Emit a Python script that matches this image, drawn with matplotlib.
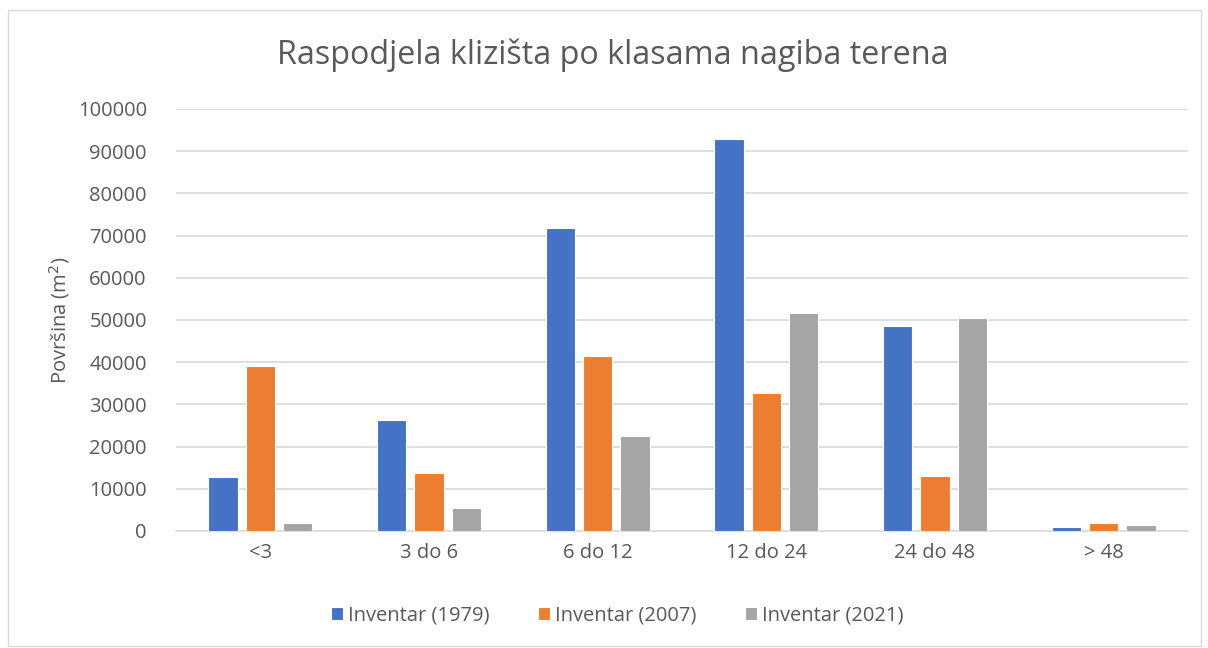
import numpy as np
import matplotlib
matplotlib.use('Agg')
from matplotlib import pyplot as plt
from matplotlib.patches import Rectangle

# Data
categories = ['<3', '3 do 6', '6 do 12', '12 do 24', '24 do 48', '> 48']
inv_1979 = [12700, 26400, 71700, 92800, 48500, 1000]
inv_2007 = [39000, 13800, 41500, 32800, 13100, 1900]
inv_2021 = [2000, 5400, 22400, 51700, 50500, 1300]
series_names = ['Inventar (1979)', 'Inventar (2007)', 'Inventar (2021)']
colors = ['#4472C4', '#ED7D31', '#A5A5A5']

plt.rcParams['font.family'] = ['Open Sans', 'DejaVu Sans']
text_col = '#595959'

fig = plt.figure(figsize=(12.08, 6.48), dpi=100)
ax = fig.add_axes([0.1457, 0.1806, 0.8377, 0.6512])

x = np.arange(len(categories))
width = 0.174
step = 0.221
for i, (vals, name, col) in enumerate(zip([inv_1979, inv_2007, inv_2021], series_names, colors)):
    ax.bar(x + (i - 1) * step, vals, width, color=col, label=name,
           edgecolor='white', linewidth=0.8, zorder=3)

ax.set_xlim(-0.5, len(categories) - 0.5)
ax.set_ylim(0, 100000)
ax.set_yticks(np.arange(0, 100001, 10000))
ax.set_xticks(x)
ax.set_xticklabels(categories)
ax.tick_params(axis='both', length=0, labelsize=14.5, colors=text_col)
ax.tick_params(axis='x', pad=9)
ax.tick_params(axis='y', pad=21)
ax.grid(axis='y', color='#d9d9d9', linewidth=1.2, zorder=0)
for s in ['top', 'right', 'left']:
    ax.spines[s].set_visible(False)
ax.spines['bottom'].set_color('#d9d9d9')
ax.spines['bottom'].set_linewidth(1.2)

ax.set_ylabel('Površina (m$^2$)', fontsize=14.5, color=text_col, labelpad=4)
fig.text(0.507, 0.915, 'Raspodjela klizišta po klasama nagiba terena',
         ha='center', va='center', fontsize=23.3, color=text_col)

leg = fig.legend(loc='center', bbox_to_anchor=(0.511, 0.05), ncol=3, frameon=False,
                 fontsize=14.5, handlelength=0.6, handleheight=0.6, handletextpad=0.25,
                 columnspacing=2.4)
for t in leg.get_texts():
    t.set_color(text_col)

# light chart border
fig.patches.append(Rectangle((0.007, 0.003), 0.987, 0.982, transform=fig.transFigure,
                             fill=False, edgecolor='#d9d9d9', linewidth=1))

fig.savefig('out.png', dpi=100)
